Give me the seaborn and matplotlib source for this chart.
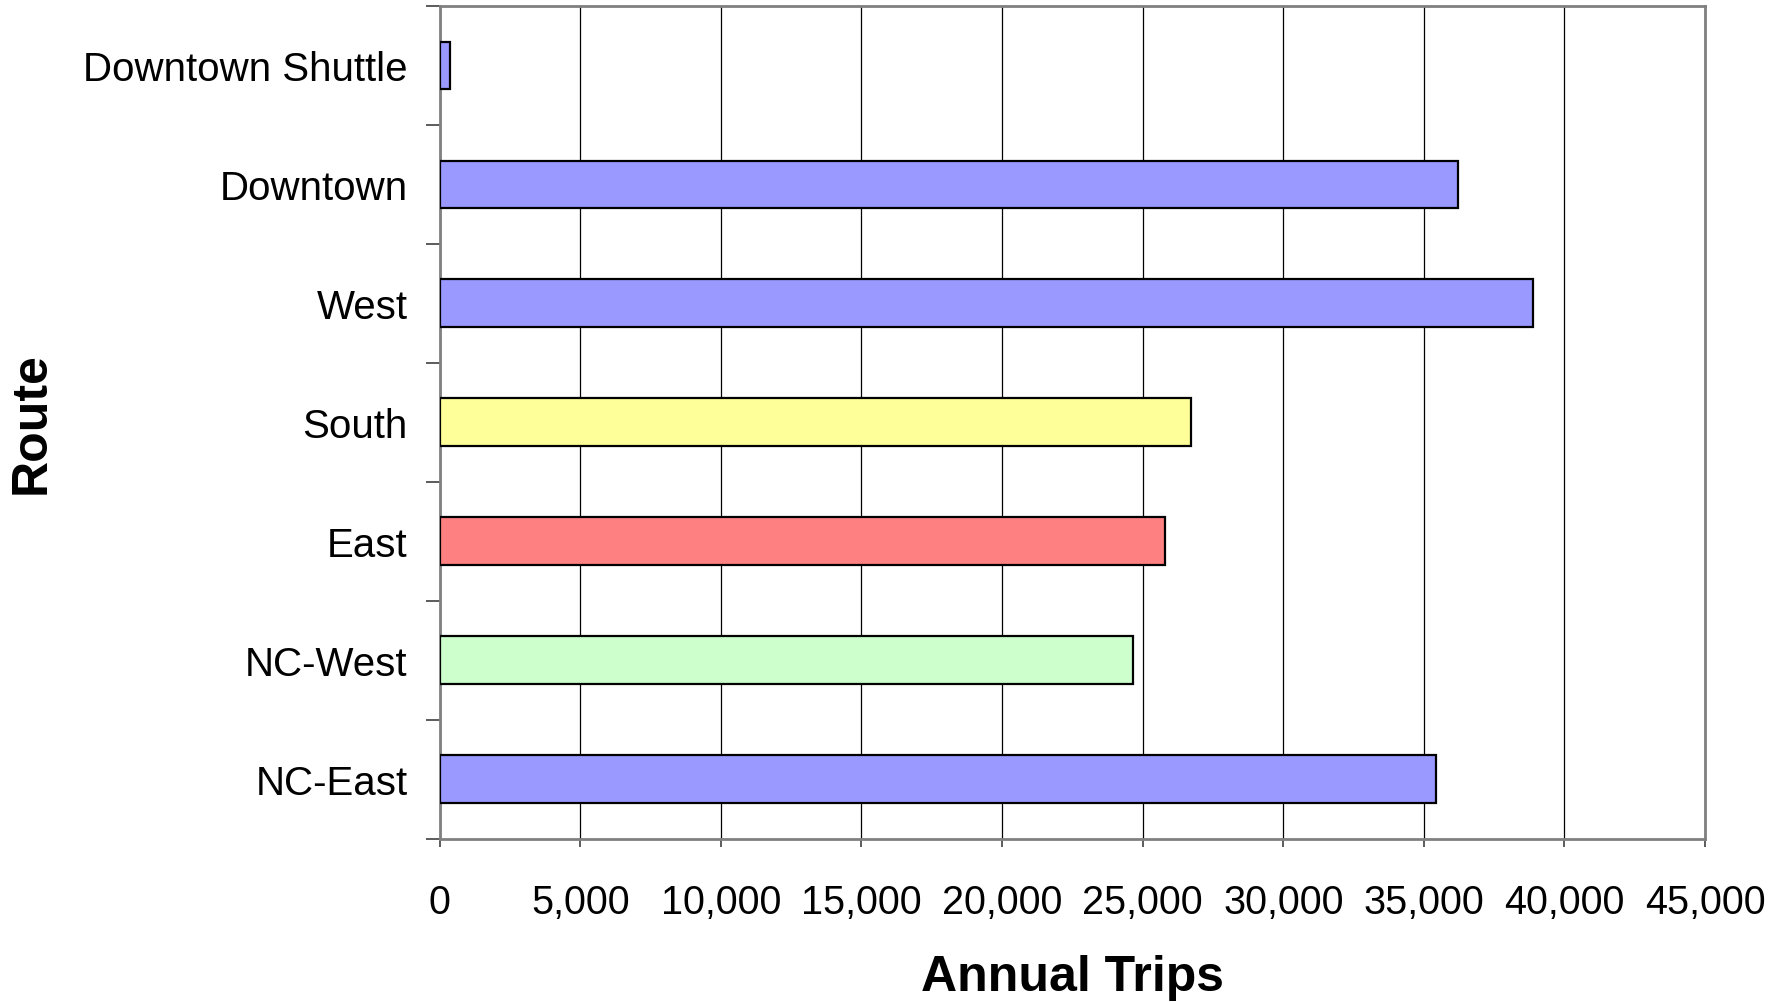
import matplotlib
matplotlib.use("Agg")
import matplotlib.pyplot as plt
import seaborn as sns
import pandas as pd
from matplotlib.ticker import FuncFormatter, FixedLocator

routes = ["Downtown Shuttle", "Downtown", "West", "South", "East", "NC-West", "NC-East"]
annual_trips = [350, 36200, 38870, 26720, 25800, 24650, 35450]
bar_colors = ["#9999FF", "#9999FF", "#9999FF", "#FFFF99", "#FF8080", "#CCFFCC", "#9999FF"]
x_ticks = [0, 5000, 10000, 15000, 20000, 25000, 30000, 35000, 40000, 45000]

sns.set_theme(style="white")
plt.rcParams["font.family"] = ["Liberation Sans", "DejaVu Sans"]

df = pd.DataFrame({"Route": routes, "Annual Trips": annual_trips})

fig = plt.figure(figsize=(17.91, 10.03), dpi=100)
ax = fig.add_axes([0.2455, 0.163, 0.952 - 0.2455, 0.9931 - 0.163])

sns.barplot(data=df, x="Annual Trips", y="Route", hue="Route",
            palette=dict(zip(routes, bar_colors)), orient="h", width=0.4,
            edgecolor="black", linewidth=1.6, saturation=1, legend=False, ax=ax,
            zorder=3)

ax.set_xlim(0, 45000)
ax.set_ylim(len(routes) - 0.5, -0.5)
ax.xaxis.set_major_locator(FixedLocator(x_ticks))
ax.xaxis.set_major_formatter(FuncFormatter(lambda v, p: f"{int(v):,}"))
ax.grid(axis="x", color="#000000", linewidth=0.9, zorder=0)
ax.grid(axis="y", visible=False)
ax.set_axisbelow(True)

for s in ax.spines.values():
    s.set_visible(True)
    s.set_color("#808080")
    s.set_linewidth(2)

# category boundary ticks on y axis
ax.set_yticks([i - 0.5 for i in range(len(routes) + 1)], minor=True)
ax.tick_params(axis="y", which="minor", left=True, length=10, width=1.2, color="#404040", direction="out")
ax.tick_params(axis="y", which="major", left=True, length=0, pad=23, labelsize=29, labelcolor="black")
ax.tick_params(axis="x", which="major", bottom=True, length=6, width=1.2, color="#404040",
               direction="out", pad=26, labelsize=28.5, labelcolor="black")

ax.set_xlabel("Annual Trips", fontsize=36, fontweight="bold", color="black", labelpad=24)
ax.set_ylabel("Route", fontsize=36, fontweight="bold", color="black")
ax.yaxis.label.set_verticalalignment("center")
ax.yaxis.label.set_rotation_mode("anchor")
ax.yaxis.set_label_coords((32 - 439.7) / (1705 - 439.7), 0.5)

fig.savefig("out.png", dpi=100, facecolor="white")
